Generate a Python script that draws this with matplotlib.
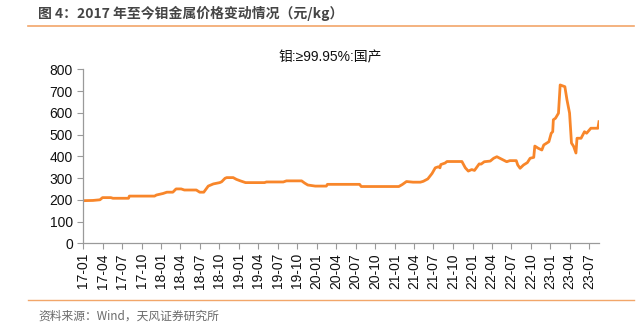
import matplotlib
matplotlib.use("Agg")
import matplotlib.pyplot as plt
import matplotlib.dates as mdates
import pandas as pd


# =====================================================
# DATA  (钼 ≥99.95% 国产, 元/kg)
# =====================================================

dates = [
    "2017-01-01", "2017-02-15", "2017-03-20", "2017-04-01", "2017-05-10",
    "2017-05-20", "2017-08-01", "2017-08-05", "2017-12-01", "2017-12-10",
    "2018-01-10", "2018-01-28", "2018-02-25", "2018-03-12", "2018-04-05",
    "2018-04-20", "2018-06-15", "2018-07-01", "2018-07-20", "2018-08-10",
    "2018-09-03", "2018-10-03", "2018-10-12", "2018-10-28", "2018-11-05",
    "2018-12-05", "2018-12-20", "2019-01-05", "2019-02-01", "2019-05-01",
    "2019-05-10", "2019-07-28", "2019-08-12", "2019-10-22", "2019-11-05",
    "2019-11-20", "2019-12-25", "2020-02-15", "2020-02-20", "2020-07-20",
    "2020-07-28", "2021-01-20", "2021-02-05", "2021-02-25", "2021-03-28",
    "2021-05-01", "2021-05-15", "2021-06-05", "2021-06-25", "2021-07-10",
    "2021-07-25", "2021-08-01", "2021-08-05", "2021-08-25", "2021-09-03",
    "2021-11-12", "2021-11-28", "2021-12-12", "2021-12-28", "2022-01-10",
    "2022-02-01", "2022-02-10", "2022-02-25", "2022-03-25", "2022-04-10",
    "2022-04-25", "2022-05-25", "2022-06-10", "2022-06-25", "2022-07-25",
    "2022-08-01", "2022-08-12", "2022-08-28", "2022-09-15", "2022-09-28",
    "2022-10-15", "2022-10-20", "2022-11-05", "2022-11-22", "2022-12-01",
    "2022-12-25", "2023-01-05", "2023-01-12", "2023-01-15", "2023-01-25",
    "2023-02-08", "2023-02-16", "2023-03-10", "2023-03-20", "2023-04-01",
    "2023-04-10", "2023-04-20", "2023-05-01", "2023-05-06", "2023-05-25",
    "2023-06-10", "2023-06-20", "2023-07-10", "2023-08-12", "2023-08-17",
]

prices = [
    196, 197, 200, 210, 210,
    207, 207, 217, 217, 222,
    229, 235, 235, 250, 250,
    245, 245, 235, 235, 263,
    273, 279, 283, 299, 302,
    302, 294, 288, 279, 279,
    282, 282, 287, 287, 277,
    268, 263, 263, 271, 271,
    261, 261, 270, 284, 281,
    281, 285, 296, 321, 347,
    352, 347, 362, 369, 376,
    376, 347, 332, 339, 335,
    365, 364, 375, 378, 391,
    398, 383, 375, 380, 380,
    360, 345, 360, 371, 391,
    395, 447, 437, 429, 452,
    467, 506, 513, 568, 575,
    598, 728, 720, 659, 599,
    461, 446, 415, 483, 483,
    513, 506, 529, 529, 559,
]

y_ticks = [0, 100, 200, 300, 400, 500, 600, 700, 800]

title_text = "图 4：2017 年至今钼金属价格变动情况（元/kg）"
series_name = "钼:≥99.95%:国产"
source_text = "资料来源：Wind，天风证券研究所"

dt = pd.to_datetime(dates)

CJK = ["Noto Sans CJK SC", "DejaVu Sans"]
NUM = ["Liberation Sans", "DejaVu Sans"]
MIXED = ["Liberation Sans", "Noto Sans CJK SC"]
AXIS_GRAY = "#9a9a9a"
LINE_ORANGE = "#F8862A"
RULE_ORANGE = "#F2A66A"


# =====================================================
# FIGURE
# =====================================================

fig = plt.figure(figsize=(6.37, 3.25), dpi=100)
ax = fig.add_axes([0.1308, 0.2514, 0.8095, 0.5354])

ax.plot(dt, prices, color=LINE_ORANGE, linewidth=2.0, solid_joinstyle="round")

ax.set_xlim(dt[0], dt[-1])
ax.set_ylim(0, 800)
ax.set_yticks(y_ticks)

ax.xaxis.set_major_locator(mdates.MonthLocator(bymonth=[1, 4, 7, 10]))
ax.xaxis.set_major_formatter(mdates.DateFormatter("%y-%m"))

for side in ["top", "right"]:
    ax.spines[side].set_visible(False)
for side in ["left", "bottom"]:
    ax.spines[side].set_color(AXIS_GRAY)
    ax.spines[side].set_linewidth(0.9)

ax.tick_params(axis="both", colors=AXIS_GRAY, length=4, width=0.8,
               labelcolor="#111111", labelsize=10)
ax.tick_params(axis="x", pad=3)
for lab in ax.get_xticklabels():
    lab.set_rotation(90)
    lab.set_family(NUM)
for lab in ax.get_yticklabels():
    lab.set_family(NUM)


# =====================================================
# TEXT + RULES
# =====================================================

fig.text(38 / 637, 1 - 13 / 325, title_text, family=CJK, fontsize=10,
         fontweight="bold", color="#454545", ha="left", va="center")

fig.text(330 / 637, 1 - 57 / 325, series_name, family=MIXED, fontsize=10,
         color="#111111", ha="center", va="center")

fig.text(38 / 637, 1 - 316 / 325, source_text, family=CJK, fontsize=8.5,
         color="#6a6a6a", ha="left", va="center")

fig.add_artist(plt.Line2D([28 / 637, 634 / 637], [1 - 26 / 325] * 2,
                          color=RULE_ORANGE, linewidth=1.2))
fig.add_artist(plt.Line2D([28 / 637, 634 / 637], [1 - 300 / 325] * 2,
                          color=RULE_ORANGE, linewidth=1.0))

fig.savefig("out.png", dpi=100)
